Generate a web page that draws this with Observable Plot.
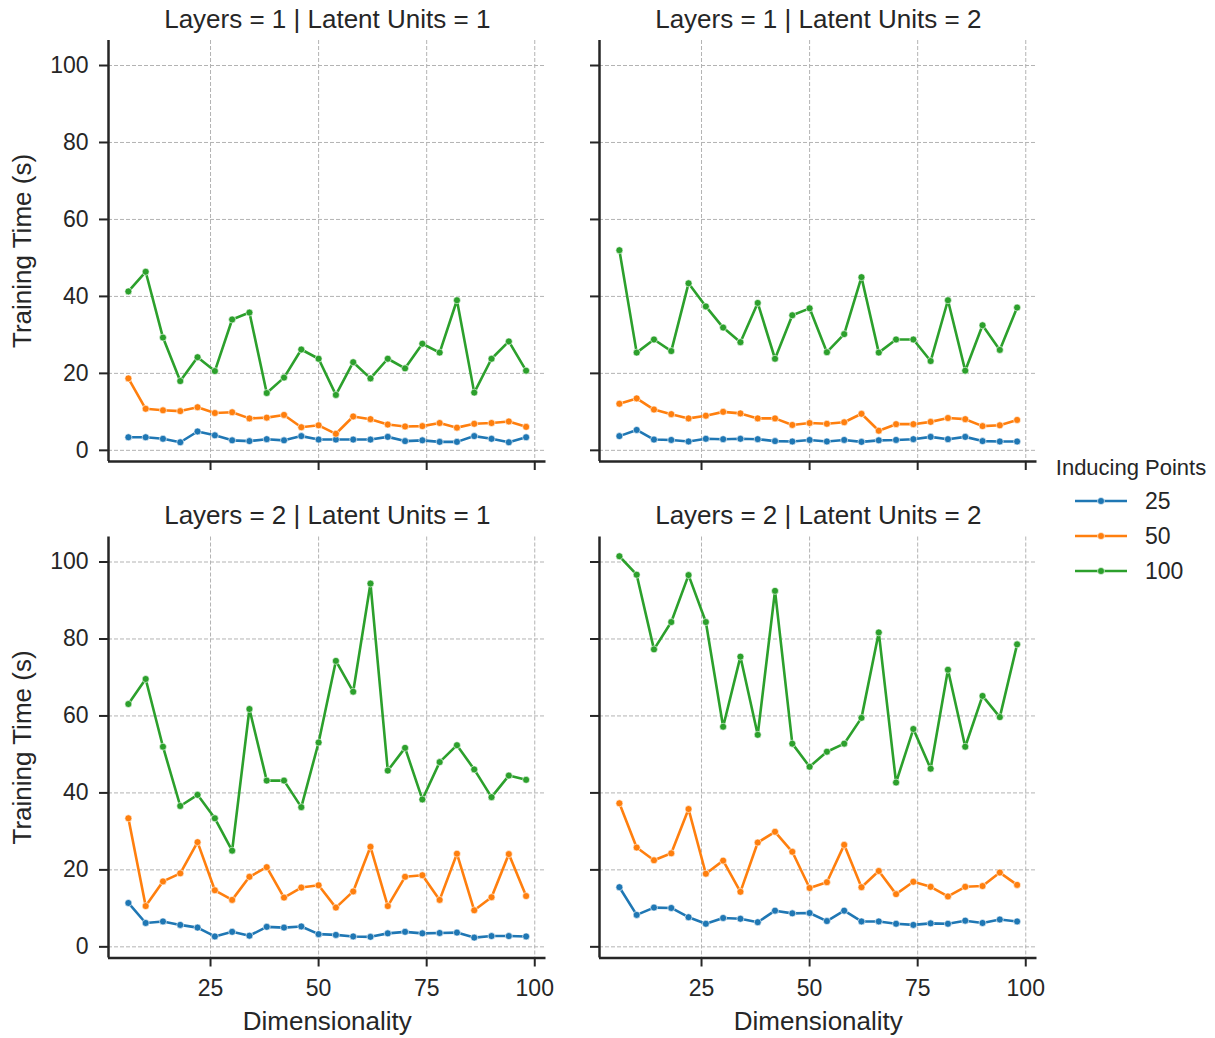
<!DOCTYPE html>
<html>
<head>
<meta charset="utf-8">
<script src="https://cdn.jsdelivr.net/npm/d3@7"></script>
<script src="https://cdn.jsdelivr.net/npm/@observablehq/plot@0.6"></script>
<style>
  body { margin: 0; background: #ffffff; }
  #chart { position: relative; width: 1215px; height: 1038px; font-family: "Liberation Sans", Arial, sans-serif; }
  #chart > svg { position: absolute; overflow: visible; }
</style>
</head>
<body>
<div id="chart"></div>
<script>
// Input dimensionality for each run
const dims = [6, 10, 14, 18, 22, 26, 30, 34, 38, 42, 46, 50, 54, 58, 62, 66, 70, 74, 78, 82, 86, 90, 94, 98];

// Inducing-point settings and their colours
const inducingPoints = [25, 50, 100];
const seriesColors = ["#1f77b4", "#ff7f0e", "#2ca02c"];

// Tick values
const xTicks = [25, 50, 75, 100];
const yTicks = [0, 20, 40, 60, 80, 100];
const xDomain = [1.4, 102.6];
const yDomain = [-2.9, 106.5];

// Training time (s) — Layers = 1, Latent Units = 1
const l1u1_p25  = [3.4, 3.4, 3.0, 2.1, 4.9, 3.9, 2.6, 2.4, 2.9, 2.6, 3.7, 2.8, 2.8, 2.8, 2.8, 3.5, 2.4, 2.6, 2.2, 2.2, 3.7, 3.0, 2.1, 3.4];
const l1u1_p50  = [18.7, 10.8, 10.4, 10.2, 11.2, 9.7, 9.9, 8.3, 8.5, 9.2, 6.0, 6.5, 4.3, 8.8, 8.1, 6.7, 6.2, 6.3, 7.1, 5.9, 6.9, 7.1, 7.5, 6.1];
const l1u1_p100 = [41.3, 46.4, 29.3, 18.0, 24.2, 20.6, 34.0, 35.8, 14.9, 18.9, 26.2, 23.8, 14.4, 22.9, 18.7, 23.8, 21.3, 27.7, 25.4, 39.0, 15.0, 23.8, 28.3, 20.7];

// Layers = 1, Latent Units = 2
const l1u2_p25  = [3.7, 5.3, 2.8, 2.7, 2.3, 3.0, 2.9, 3.0, 2.9, 2.4, 2.3, 2.7, 2.3, 2.7, 2.2, 2.6, 2.7, 2.9, 3.5, 2.9, 3.5, 2.4, 2.3, 2.3];
const l1u2_p50  = [12.1, 13.5, 10.6, 9.4, 8.3, 9.0, 10.0, 9.6, 8.3, 8.3, 6.6, 7.1, 6.9, 7.3, 9.5, 5.1, 6.8, 6.8, 7.4, 8.4, 8.1, 6.3, 6.5, 7.9];
const l1u2_p100 = [52.0, 25.4, 28.8, 25.8, 43.4, 37.4, 31.9, 28.1, 38.3, 23.8, 35.1, 36.9, 25.5, 30.2, 45.0, 25.4, 28.8, 28.8, 23.2, 39.0, 20.7, 32.5, 26.1, 37.1];

// Layers = 2, Latent Units = 1
const l2u1_p25  = [11.4, 6.2, 6.6, 5.7, 5.0, 2.7, 3.9, 2.9, 5.2, 5.0, 5.3, 3.3, 3.1, 2.7, 2.6, 3.5, 3.9, 3.5, 3.6, 3.7, 2.4, 2.8, 2.8, 2.7];
const l2u1_p50  = [33.4, 10.6, 17.0, 19.1, 27.2, 14.7, 12.2, 18.2, 20.7, 12.8, 15.4, 16.0, 10.2, 14.4, 26.0, 10.6, 18.2, 18.6, 12.2, 24.2, 9.5, 12.9, 24.1, 13.2];
const l2u1_p100 = [63.1, 69.6, 52.0, 36.6, 39.5, 33.4, 25.0, 61.8, 43.2, 43.2, 36.3, 53.1, 74.3, 66.3, 94.4, 45.8, 51.7, 38.3, 48.0, 52.4, 46.1, 38.9, 44.5, 43.4];

// Layers = 2, Latent Units = 2
const l2u2_p25  = [15.5, 8.3, 10.2, 10.1, 7.7, 6.0, 7.5, 7.3, 6.4, 9.4, 8.7, 8.8, 6.7, 9.4, 6.6, 6.6, 6.0, 5.7, 6.1, 6.0, 6.8, 6.2, 7.1, 6.6];
const l2u2_p50  = [37.3, 25.8, 22.5, 24.3, 35.8, 19.0, 22.4, 14.3, 27.1, 29.9, 24.7, 15.3, 16.8, 26.5, 15.5, 19.7, 13.7, 16.9, 15.6, 13.1, 15.6, 15.8, 19.3, 16.1];
const l2u2_p100 = [101.5, 96.7, 77.3, 84.4, 96.6, 84.4, 57.2, 75.4, 55.1, 92.5, 52.8, 46.8, 50.7, 52.8, 59.5, 81.7, 42.7, 56.6, 46.3, 72.0, 52.0, 65.2, 59.7, 78.6];

const panels = [
  {layers: 1, units: 1, series: [l1u1_p25, l1u1_p50, l1u1_p100], row: 0, col: 0},
  {layers: 1, units: 2, series: [l1u2_p25, l1u2_p50, l1u2_p100], row: 0, col: 1},
  {layers: 2, units: 1, series: [l2u1_p25, l2u1_p50, l2u1_p100], row: 1, col: 0},
  {layers: 2, units: 2, series: [l2u2_p25, l2u2_p50, l2u2_p100], row: 1, col: 1}
];

const ink = "#262626";
const gridStyle = {stroke: "#b3b3b3", strokeOpacity: 1, strokeWidth: 1, strokeDasharray: "4,2"};
const frameW = 437.5, frameH = 421;

const chart = document.getElementById("chart");

for (const p of panels) {
  const rows = inducingPoints.flatMap((ip, i) =>
    dims.map((d, j) => ({dim: d, time: p.series[i][j], points: ip})));

  const isLeft = p.col === 0, isBottom = p.row === 1;
  const marginLeft = isLeft ? 108 : 39;
  const marginRight = 15;
  const marginTop = p.row === 0 ? 40 : 40.5;
  const marginBottom = isBottom ? 80 : 39;

  const marks = [
    Plot.gridX(xTicks, gridStyle),
    Plot.gridY(yTicks, gridStyle)
  ];
  // each series: line first, then its markers on top
  inducingPoints.forEach((ip) => {
    const sub = rows.filter(r => r.points === ip);
    marks.push(Plot.line(sub, {x: "dim", y: "time", stroke: "points", strokeWidth: 2.6}));
    marks.push(Plot.dot(sub, {x: "dim", y: "time", fill: "points", r: 3.5, stroke: "white", strokeWidth: 0.6}));
  });
  marks.push(
    // left and bottom spines
    Plot.ruleX([xDomain[0]], {stroke: ink, strokeWidth: 2.5}),
    Plot.ruleY([yDomain[0]], {stroke: ink, strokeWidth: 2.5}),
    Plot.axisX(xTicks, {
      anchor: "bottom", label: null, tickSize: 9, tickPadding: 13, strokeWidth: 2, stroke: ink,
      color: ink, fontSize: 23, tickFormat: isBottom ? (d => String(d)) : (() => "")
    }),
    Plot.axisY(yTicks, {
      anchor: "left", label: null, tickSize: 9, tickPadding: 11, strokeWidth: 2, stroke: ink,
      color: ink, fontSize: 23, tickFormat: isLeft ? (d => String(d)) : (() => "")
    }),
    Plot.text([`Layers = ${p.layers} | Latent Units = ${p.units}`], {
      frameAnchor: "top", dy: -21, lineAnchor: "middle", fontSize: 26, fill: ink
    })
  );
  if (isLeft) {
    marks.push(Plot.text(["Training Time (s)"], {
      frameAnchor: "left", dx: -86, rotate: -90, textAnchor: "middle", lineAnchor: "middle", fontSize: 26, fill: ink
    }));
  }
  if (isBottom) {
    marks.push(Plot.text(["Dimensionality"], {
      frameAnchor: "bottom", dy: 64, lineAnchor: "middle", fontSize: 26, fill: ink
    }));
  }

  const svg = Plot.plot({
    width: marginLeft + frameW + marginRight,
    height: marginTop + frameH + marginBottom,
    marginLeft, marginRight, marginTop, marginBottom,
    style: {fontFamily: "'Liberation Sans', Arial, sans-serif", background: "transparent", overflow: "visible"},
    x: {domain: xDomain},
    y: {domain: yDomain},
    color: {type: "ordinal", domain: inducingPoints, range: seriesColors},
    marks
  });
  svg.style.left = (p.col === 0 ? 0 : 560) + "px";
  svg.style.top = (p.row === 0 ? 0 : 496) + "px";
  chart.appendChild(svg);
}

// Legend: line-with-marker swatches for each inducing-point setting
const legend = d3.create("svg")
  .attr("width", 175).attr("height", 140)
  .style("left", "1040px").style("top", "448px")
  .style("font-family", "'Liberation Sans', Arial, sans-serif");
legend.append("text")
  .attr("x", 91).attr("y", 19).attr("text-anchor", "middle").attr("dominant-baseline", "central")
  .attr("font-size", 22).attr("fill", ink).text("Inducing Points");
inducingPoints.forEach((ip, i) => {
  const g = legend.append("g").attr("transform", `translate(0, ${53 + i * 35})`);
  g.append("line").attr("x1", 35).attr("x2", 87).attr("y1", 0).attr("y2", 0)
    .attr("stroke", seriesColors[i]).attr("stroke-width", 2.6);
  g.append("circle").attr("cx", 61).attr("cy", 0).attr("r", 3.5)
    .attr("fill", seriesColors[i]).attr("stroke", "white").attr("stroke-width", 0.6);
  g.append("text").attr("x", 105).attr("y", 0).attr("dominant-baseline", "central")
    .attr("font-size", 23).attr("fill", ink).text(String(ip));
});
chart.appendChild(legend.node());
</script>
</body>
</html>
